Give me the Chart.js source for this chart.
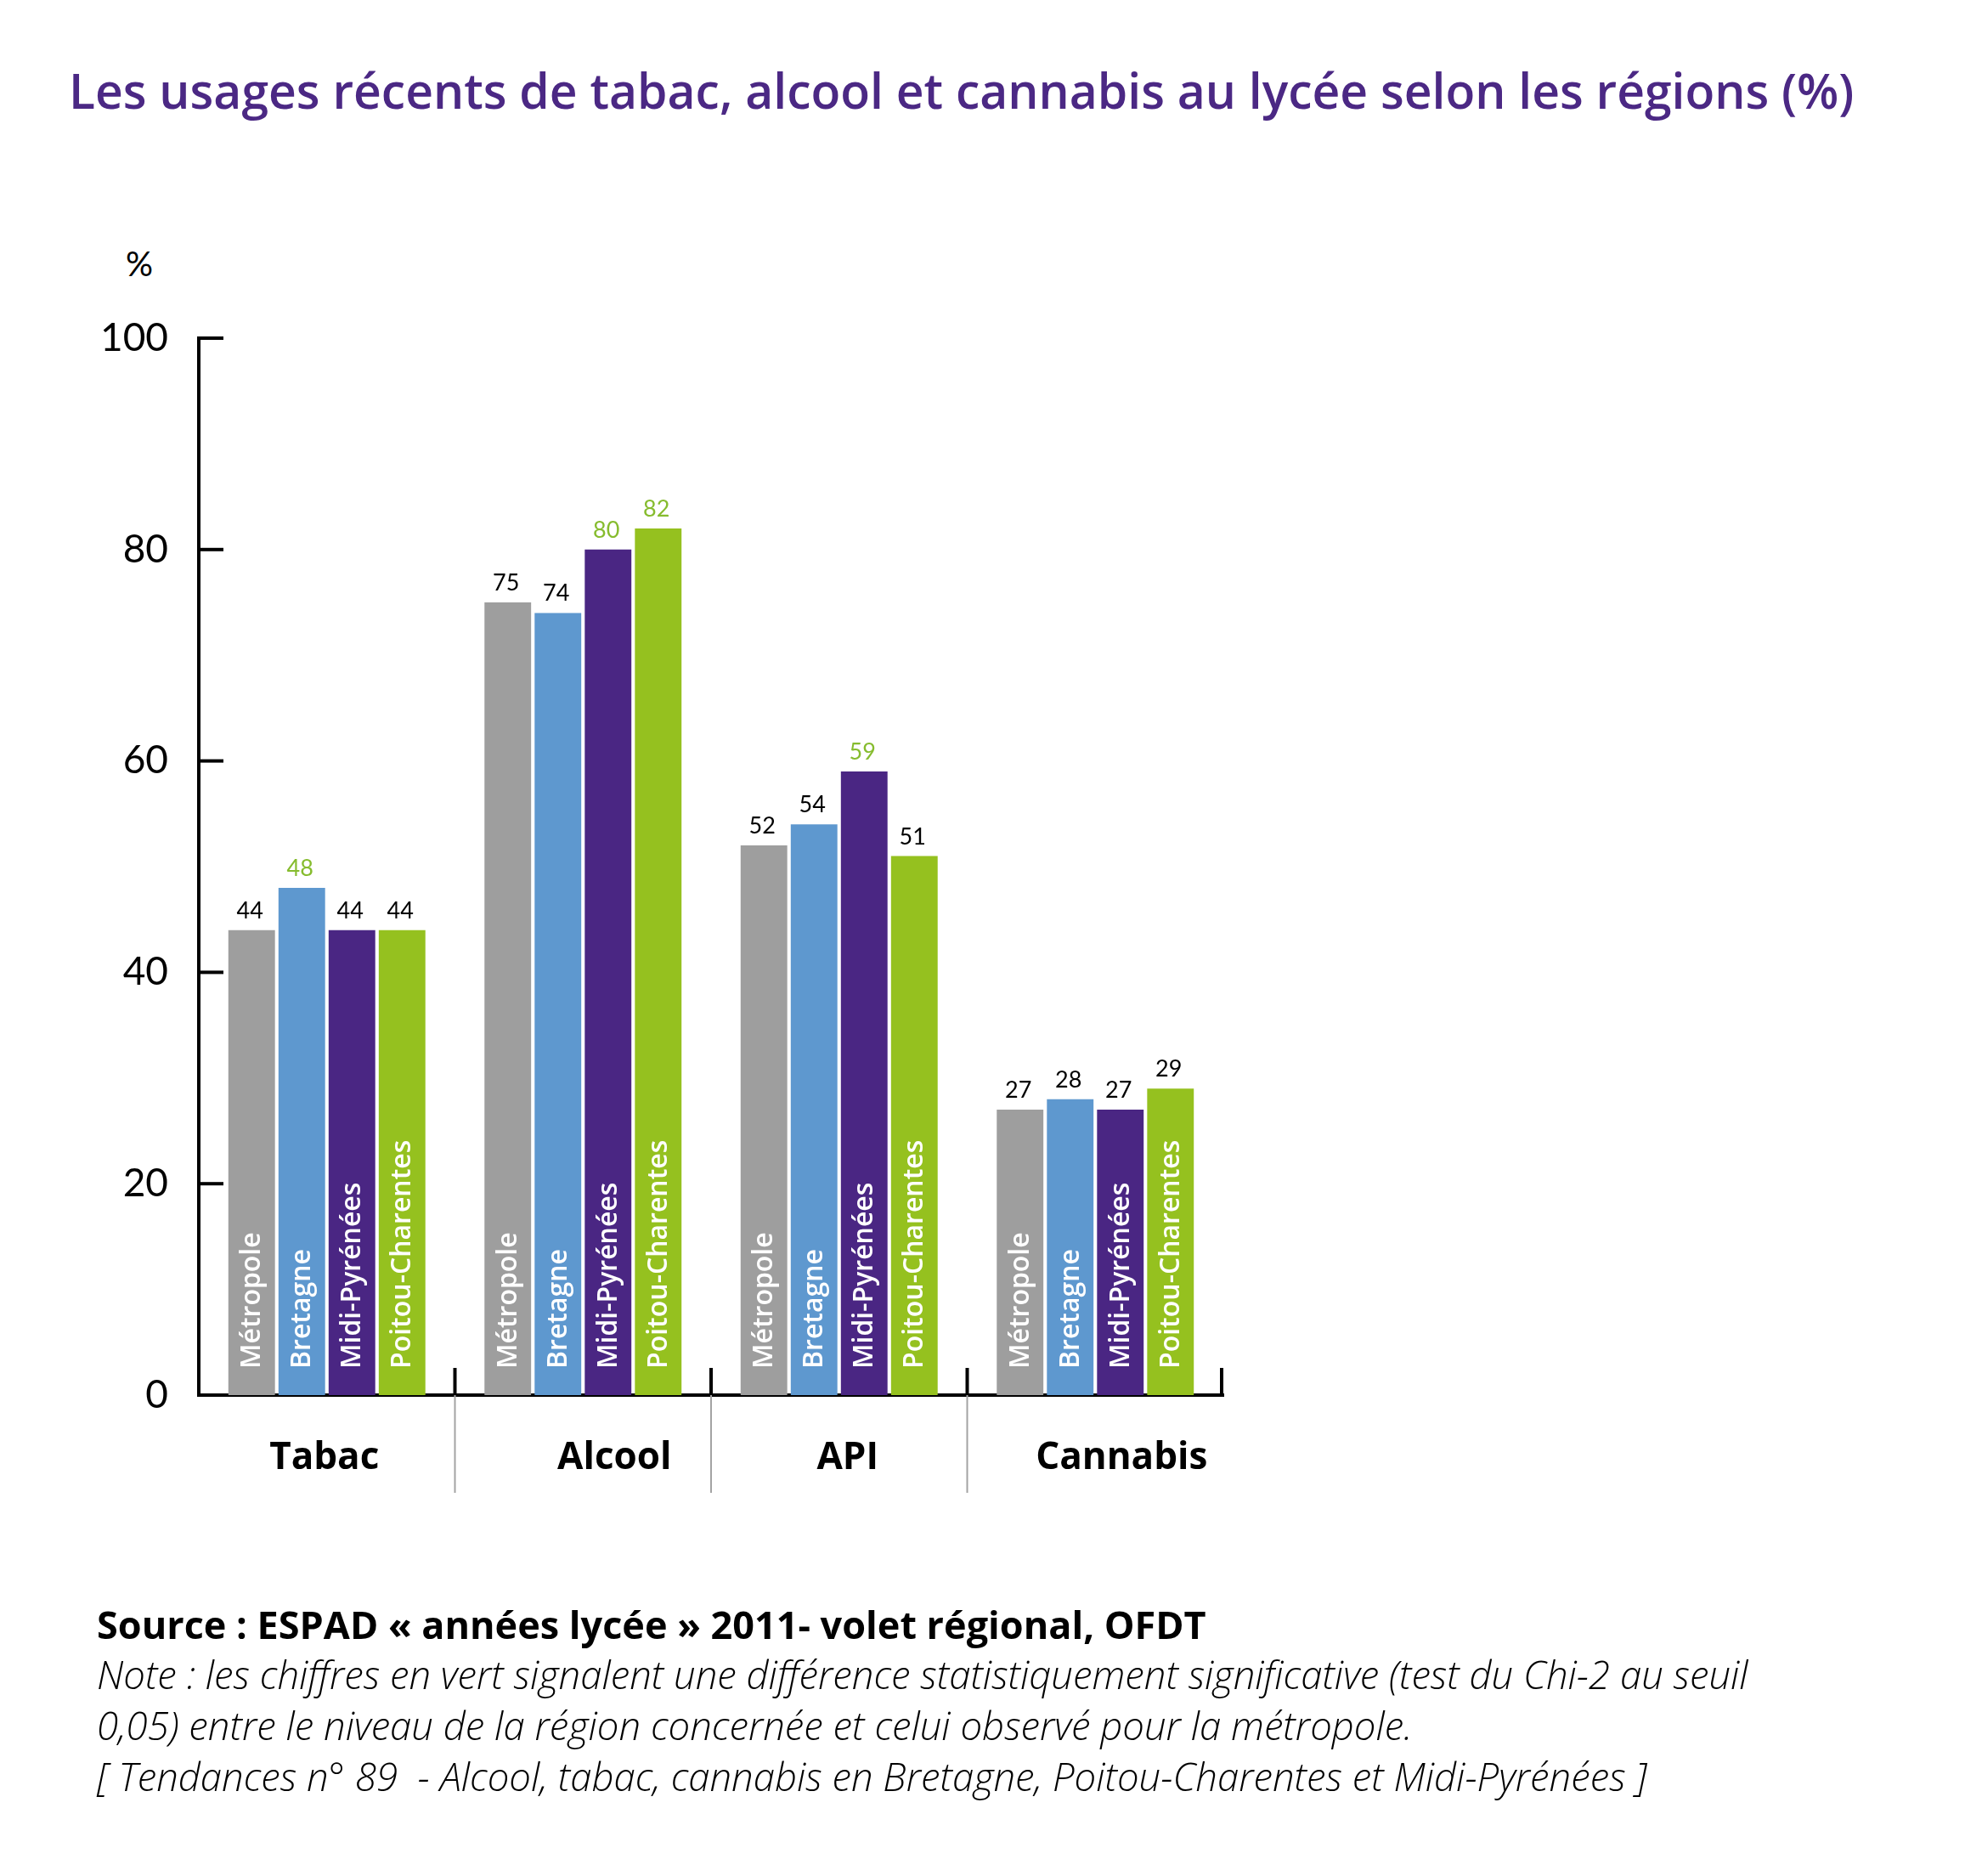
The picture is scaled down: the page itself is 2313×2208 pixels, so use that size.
<!DOCTYPE html>
<html>
<head>
<meta charset="utf-8">
<script src="https://cdn.jsdelivr.net/npm/chart.js@4/dist/chart.umd.min.js"></script>
<style>
  html, body { margin: 0; padding: 0; background: #fff; }
  body { width: 2313px; height: 2208px; position: relative; overflow: hidden; font-family: "Open Sans", Lato, sans-serif; }
  #chart { position: absolute; left: 0; top: 0; }
  .txt { position: absolute; white-space: nowrap; line-height: 1; }
  #title { left: 81px; top: 78px; font-size: 57px; font-weight: 600; color: #4b2884; }
  #unit { left: 148px; top: 290px; font-size: 40px; color: #000; font-family: Lato, sans-serif; }
  #source { left: 114px; top: 1889px; font-size: 45px; font-weight: 700; color: #000; }
  .note { left: 114px; font-size: 45.5px; font-style: italic; font-weight: 300; color: #000; }
</style>
</head>
<body>
<div id="title" class="txt">Les usages récents de tabac, alcool et cannabis au lycée selon les régions (%)</div>
<div id="unit" class="txt">%</div>
<canvas id="chart" width="2313" height="2208"></canvas>
<div id="source" class="txt">Source : ESPAD « années lycée » 2011- volet régional, OFDT</div>
<div class="txt note" style="top:1948px">Note : les chiffres en vert signalent une différence statistiquement significative (test du Chi-2 au seuil</div>
<div class="txt note" style="top:2008px">0,05) entre le niveau de la région concernée et celui observé pour la métropole.</div>
<div class="txt note" style="top:2068px">[ Tendances n° 89&nbsp; - Alcool, tabac, cannabis en Bretagne, Poitou-Charentes et Midi-Pyrénées ]</div>

<script>
// categories and series
const categories = ["Tabac", "Alcool", "API", "Cannabis"];
const regions = ["Métropole", "Bretagne", "Midi-Pyrénées", "Poitou-Charentes"];

const metropole = [44, 75, 52, 27];
const bretagne = [48, 74, 54, 28];
const midiPyrenees = [44, 80, 59, 27];
const poitouCharentes = [44, 82, 51, 29];

// true = value printed in green (significant difference)
const sigMetropole = [false, false, false, false];
const sigBretagne = [true, false, false, false];
const sigMidiPyrenees = [false, true, true, false];
const sigPoitouCharentes = [false, true, false, false];

const yTicks = [0, 20, 40, 60, 80, 100];

const colors = ["#9e9e9e", "#5e98cf", "#4a2683", "#95c11f"];
const sigColor = "#86bc2e";
const fontFamily = "Lato, 'Open Sans', sans-serif";
const labelFamily = "'Open Sans', Lato, sans-serif";
// small horizontal nudges of the group names, as in the original layout
const labelNudge = [-3, 37, 10, 31];

const seriesValues = [metropole, bretagne, midiPyrenees, poitouCharentes];
const seriesSig = [sigMetropole, sigBretagne, sigMidiPyrenees, sigPoitouCharentes];

// tick marks inside the plot, group separators and group names
const axisDecor = {
  id: "axisDecor",
  afterDraw(chart) {
    const ctx = chart.ctx;
    const x = chart.scales.x, y = chart.scales.y;
    const area = chart.chartArea;
    ctx.save();
    ctx.strokeStyle = "#000";
    ctx.lineWidth = 4;
    yTicks.forEach(function (v) {
      if (v === 0) return;
      const py = y.getPixelForValue(v);
      ctx.beginPath();
      ctx.moveTo(area.left, py);
      ctx.lineTo(area.left + 29, py);
      ctx.stroke();
    });
    const bottom = y.getPixelForValue(0);
    const bounds = [];
    for (let i = 0; i < categories.length - 1; i++) {
      bounds.push((x.getPixelForValue(i) + x.getPixelForValue(i + 1)) / 2);
    }
    bounds.forEach(function (bx) {
      ctx.strokeStyle = "#000";
      ctx.lineWidth = 4;
      ctx.beginPath();
      ctx.moveTo(bx, bottom);
      ctx.lineTo(bx, bottom - 32);
      ctx.stroke();
      ctx.strokeStyle = "#a3a3a3";
      ctx.lineWidth = 2;
      ctx.beginPath();
      ctx.moveTo(bx, bottom);
      ctx.lineTo(bx, bottom + 115);
      ctx.stroke();
    });
    ctx.strokeStyle = "#000";
    ctx.lineWidth = 4;
    ctx.beginPath();
    ctx.moveTo(area.right - 2, bottom);
    ctx.lineTo(area.right - 2, bottom - 32);
    ctx.stroke();

    ctx.fillStyle = "#000";
    ctx.font = "700 44px " + labelFamily;
    ctx.textAlign = "center";
    ctx.textBaseline = "middle";
    categories.forEach(function (c, i) {
      ctx.fillText(c, x.getPixelForValue(i) + labelNudge[i], bottom + 74);
    });
    ctx.restore();
  }
};

// region names inside the bars and values above them
const barText = {
  id: "barText",
  afterDatasetsDraw(chart) {
    const ctx = chart.ctx;
    ctx.save();
    chart.data.datasets.forEach(function (ds, di) {
      const meta = chart.getDatasetMeta(di);
      meta.data.forEach(function (bar, i) {
        // value
        ctx.fillStyle = seriesSig[di][i] ? sigColor : "#000";
        ctx.font = "400 27px " + fontFamily;
        ctx.textAlign = "center";
        ctx.textBaseline = "alphabetic";
        ctx.fillText(String(ds.data[i]), bar.x - 2, bar.y - 14);
        // region name, vertical
        ctx.save();
        ctx.translate(bar.x, bar.base - 31);
        ctx.rotate(-Math.PI / 2);
        ctx.fillStyle = "#fff";
        ctx.font = "600 32px " + labelFamily;
        ctx.textAlign = "left";
        ctx.textBaseline = "middle";
        ctx.fillText(ds.label, 0, 1);
        ctx.restore();
      });
    });
    ctx.restore();
  }
};

new Chart(document.getElementById("chart"), {
  type: "bar",
  data: {
    labels: categories,
    datasets: regions.map(function (r, i) {
      return {
        label: r,
        data: seriesValues[i],
        backgroundColor: colors[i],
        borderWidth: 0,
        barPercentage: 0.93,
        categoryPercentage: 0.783
      };
    })
  },
  options: {
    responsive: false,
    devicePixelRatio: 1,
    animation: false,
    layout: { padding: { left: 0, top: 398, right: 873, bottom: 446 } },
    plugins: {
      legend: { display: false },
      tooltip: { enabled: false },
      title: { display: false }
    },
    scales: {
      x: {
        grid: { display: false, drawTicks: false },
        border: { display: true, color: "#000", width: 4 },
        ticks: { display: false },
        afterFit: function (s) { s.height = 120; }
      },
      y: {
        min: 0,
        max: 100,
        grid: { display: false, drawTicks: false },
        border: { display: true, color: "#000", width: 4 },
        ticks: {
          stepSize: 20,
          color: "#000",
          padding: 36,
          font: { family: fontFamily, size: 46, weight: "400" }
        },
        afterFit: function (s) { s.width = 234; }
      }
    }
  },
  plugins: [axisDecor, barText]
});
</script>
</body>
</html>
